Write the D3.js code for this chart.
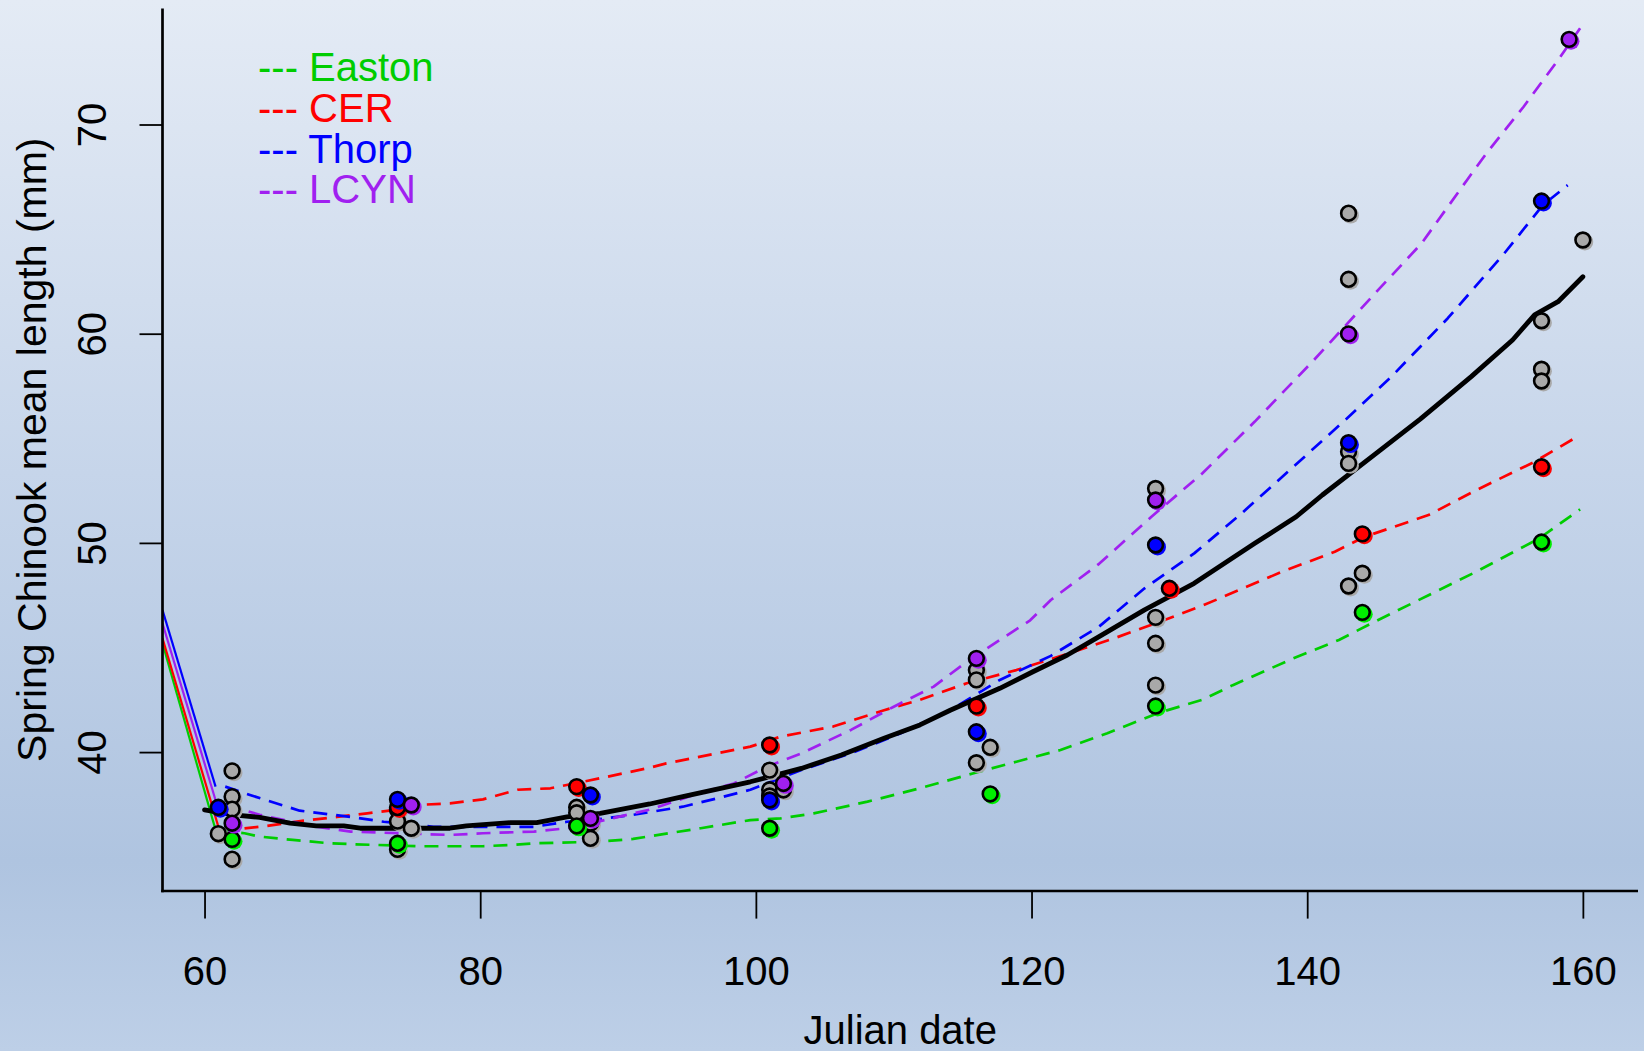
<!DOCTYPE html>
<html><head><meta charset="utf-8">
<script src="https://cdn.jsdelivr.net/npm/d3@7"></script>
<style>html,body{margin:0;padding:0;overflow:hidden;background:#fff}svg{display:block}text{font-family:"Liberation Sans",Arial,sans-serif}</style>
</head><body>
<script>
// ---------- DATA ----------
const xTicks = [60, 80, 100, 120, 140, 160];
const yTicks = [40, 50, 60, 70];
const xLabel = "Julian date";
const yLabel = "Spring Chinook mean length (mm)";
const siteNames = ["Easton", "CER", "Thorp", "LCYN"];

// all-site (gray) points [day, length]
const grayPoints = [
  [61,36.1],[62,39.1],[62,37.87],[62,37.27],[62,34.88],
  [74,37.24],[74,36.7],[74,35.35],[75,36.36],
  [87,37.36],[87,37.1],[88,36.6],[88,35.88],
  [101,39.14],[101,38.2],[101,37.9],[102,38.19],
  [116,43.92],[116,43.45],[116,39.49],[117,40.23],
  [129,52.6],[129,46.44],[129,45.2],[129,43.2],
  [143,65.76],[143,62.6],[143,54.36],[143,53.8],[143,47.94],[144,48.55],
  [157,60.62],[157,58.3],[157,57.74],[160,64.48]
];

const eastonPoints = [[62,35.83],[74,35.64],[87,36.47],[101,36.36],[117,38.0],[129,42.2],[144,46.68],[157,50.04]];
const cerPoints    = [[74,37.35],[87,38.35],[101,40.34],[116,42.2],[130,47.83],[144,50.43],[157,53.64]];
const thorpPoints  = [[61,37.36],[74,37.74],[88,37.95],[101,37.71],[116,40.97],[129,49.9],[143,54.79],[157,66.34]];
const lcynPoints   = [[62,36.6],[75,37.47],[88,36.83],[102,38.5],[116,44.48],[129,52.05],[143,59.99],[159,74.07]];

// short solid lead-in segments at the left edge
const eastonLead = [[56.95,45.2],[60.8,36.28]];
const cerLead    = [[56.95,45.44],[61.0,36.44]];
const thorpLead  = [[56.95,46.79],[60.8,38.35]];
const lcynLead   = [[56.95,46.16],[60.8,37.7]];

// smoothed site curves (dashed)
const eastonCurve = [[61,36.25],[62.9,36.12],[64,35.96],[66.4,35.8],[69.1,35.64],[70.6,35.6],[75.4,35.5],[80.2,35.5],[82.2,35.56],[83.9,35.64],[88.7,35.72],[91.1,35.85],[96,36.36],[99.6,36.75],[101.8,36.83],[104.2,37.07],[108.1,37.63],[111.9,38.27],[115.8,38.99],[118.9,39.54],[122.1,40.1],[125.5,40.9],[129.1,41.85],[132.4,42.5],[134.6,43.2],[139,44.48],[142.3,45.36],[144.8,46.2],[148.8,47.5],[152.2,48.6],[156.8,50.2],[159.8,51.6]];
const cerCurve = [[62.9,36.35],[64.5,36.47],[67.2,36.72],[69.6,36.9],[71.8,37.07],[73.7,37.23],[75.4,37.47],[77.8,37.55],[80.2,37.74],[82.7,38.2],[85.1,38.27],[88.7,38.75],[92.3,39.25],[93.5,39.46],[99.6,40.26],[101.8,40.74],[105.6,41.22],[109.3,42.0],[111.9,42.5],[115.3,43.29],[118.9,43.92],[122.6,44.7],[126,45.44],[129.6,46.3],[132.4,47.0],[138.1,48.6],[142,49.58],[144.2,50.3],[148.8,51.33],[152.2,52.5],[156.5,53.88],[159.6,55.08]];
const thorpCurve = [[61.5,38.35],[63.3,37.95],[66.9,37.2],[70.6,36.9],[73,36.67],[76.6,36.43],[80.2,36.43],[83.9,36.43],[86.3,36.67],[88.7,36.8],[91.1,37.0],[94.7,37.39],[97.2,37.79],[99.6,38.2],[103.3,39.14],[106.9,39.94],[110.5,40.9],[114.1,42.0],[117.7,43.45],[121.4,44.6],[124.9,46.0],[128.2,47.83],[131.8,49.5],[135.1,51.33],[139,53.64],[142.8,55.9],[146.1,57.94],[150.2,60.74],[154.3,63.84],[157.1,66.15],[158.9,67.1]];
const lcynCurve = [[61.6,37.47],[64,37.0],[66.9,36.6],[68.1,36.44],[70.6,36.2],[74.2,36.12],[77.8,36.04],[80.2,36.12],[83.9,36.2],[86.3,36.36],[88.7,36.7],[92.3,37.25],[95.5,37.95],[98.4,38.5],[100.8,39.3],[103.3,39.94],[106.9,41.06],[110,42.17],[112.9,43.13],[115.3,44.32],[117.7,45.36],[119.9,46.3],[121.4,47.27],[124.9,49.0],[128.7,51.25],[132.4,53.33],[136.2,55.8],[140.5,58.75],[144.7,61.77],[148.3,64.32],[151.6,67.35],[153,68.62],[155.7,70.85],[158.2,73.08],[159.8,74.6]];

// overall smoothed curve (solid black)
const allCurve = [[60,37.24],[62.1,37.0],[64,36.88],[66.2,36.6],[68.1,36.47],[70.1,36.47],[71.3,36.36],[74.2,36.36],[77.8,36.36],[79,36.47],[82.2,36.63],[84.1,36.63],[86.3,36.9],[88.7,37.07],[92.3,37.52],[94.7,37.87],[99.6,38.58],[103.3,39.22],[106.2,39.86],[109.3,40.66],[111.9,41.3],[114.1,42.0],[117.7,43.05],[120.1,43.84],[122.6,44.64],[124.9,45.52],[128.2,46.8],[131.8,48.07],[136.2,49.98],[139.2,51.25],[141.1,52.29],[145,54.28],[148.2,55.92],[151.9,57.95],[154.9,59.7],[156.5,60.9],[158.2,61.53],[160,62.72]];

// ---------- STYLE ----------
const W = 1644, H = 1051;
const lineColors  = ["#00cd00", "#ff0000", "#0000ff", "#a020f0"];
const pointColors = ["#00ee00", "#ff0000", "#0000ff", "#a020f0"];
const grayColor = "#a9a9a9";

const sites = [
  {name: siteNames[0], pts: eastonPoints, lead: eastonLead, curve: eastonCurve},
  {name: siteNames[1], pts: cerPoints,    lead: cerLead,    curve: cerCurve},
  {name: siteNames[2], pts: thorpPoints,  lead: thorpLead,  curve: thorpCurve},
  {name: siteNames[3], pts: lcynPoints,   lead: lcynLead,   curve: lcynCurve}
];

const svg = d3.select("body").append("svg").attr("width", W).attr("height", H);
const defs = svg.append("defs");
const grad = defs.append("linearGradient").attr("id","bg").attr("x1",0).attr("y1",0).attr("x2",0).attr("y2",1);
grad.append("stop").attr("offset","0%").attr("stop-color","#e4ebf5");
grad.append("stop").attr("offset","45%").attr("stop-color","#c6d5ea");
grad.append("stop").attr("offset","82%").attr("stop-color","#afc4e0");
grad.append("stop").attr("offset","100%").attr("stop-color","#bdcfe7");
svg.append("rect").attr("width", W).attr("height", H).attr("fill","url(#bg)");

const pLeft = 162.5, pRight = 1638, pTop = 8.4, pBottom = 891;
const x = d3.scaleLinear().domain([56.95, 164.0]).range([pLeft, pRight]);
const y = d3.scaleLinear().domain([33.36, 75.55]).range([pBottom, pTop]);

const clip = defs.append("clipPath").attr("id","plotclip");
clip.append("rect").attr("x", pLeft).attr("y", pTop).attr("width", pRight-pLeft).attr("height", pBottom-pTop);

const line = d3.line().x(d => x(d[0])).y(d => y(d[1]));
const plot = svg.append("g").attr("clip-path","url(#plotclip)");

// site lead-ins and curves
sites.forEach((s, i) => {
  plot.append("path").attr("d", line(s.lead)).attr("fill","none")
    .attr("stroke", lineColors[i]).attr("stroke-width", 2.2);
});
sites.forEach((s, i) => {
  plot.append("path").attr("d", line(s.curve)).attr("fill","none")
    .attr("stroke", lineColors[i]).attr("stroke-width", 2.7)
    .attr("stroke-dasharray","14,9").attr("stroke-linejoin","round");
});

// overall curve
plot.append("path").attr("d", line(allCurve)).attr("fill","none")
  .attr("stroke","#000").attr("stroke-width",4.8).attr("stroke-linejoin","round").attr("stroke-linecap","round");

// points
function drawPoints(data, color){
  const g = svg.append("g");
  g.selectAll("circle.sh").data(data).join("circle").attr("class","sh")
    .attr("cx", d => x(d[0]) + 2).attr("cy", d => y(d[1]) + 2).attr("r", 8.4).attr("fill", color);
  g.selectAll("circle.pt").data(data).join("circle").attr("class","pt")
    .attr("cx", d => x(d[0])).attr("cy", d => y(d[1])).attr("r", 7.4)
    .attr("fill", color).attr("stroke","#000").attr("stroke-width",2.6);
}
drawPoints(grayPoints, grayColor);
sites.forEach((s, i) => drawPoints(s.pts, pointColors[i]));

// axes
const xAxis = svg.append("g").attr("transform", `translate(0,${pBottom})`)
  .call(d3.axisBottom(x).tickValues(xTicks).tickSize(27.6).tickPadding(38).tickFormat(d3.format("d")));
xAxis.select(".domain").remove();
xAxis.selectAll(".tick line").attr("stroke","#000").attr("stroke-width",1.8);
xAxis.selectAll(".tick text").attr("font-size",40).attr("fill","#000")
  .attr("font-family",'"Liberation Sans",Arial,sans-serif');

const yAxis = svg.append("g").attr("transform", `translate(${pLeft},0)`)
  .call(d3.axisLeft(y).tickValues(yTicks).tickSize(23).tickFormat(d3.format("d")));
yAxis.select(".domain").remove();
yAxis.selectAll(".tick line").attr("stroke","#000").attr("stroke-width",1.8);
yAxis.selectAll(".tick text")
  .attr("x", null).attr("dy", null)
  .attr("transform", "translate(-57,0) rotate(-90)")
  .attr("text-anchor","middle").attr("font-size",40).attr("fill","#000")
  .attr("font-family",'"Liberation Sans",Arial,sans-serif');

// frame lines (L-shape)
svg.append("line").attr("x1", pLeft).attr("x2", pLeft).attr("y1", pTop).attr("y2", pBottom+1.3)
  .attr("stroke","#000").attr("stroke-width",2.7);
svg.append("line").attr("x1", pLeft-1.3).attr("x2", pRight).attr("y1", pBottom).attr("y2", pBottom)
  .attr("stroke","#000").attr("stroke-width",2.7);

// axis titles
svg.append("text").attr("x", (pLeft+pRight)/2).attr("y", 1044).attr("text-anchor","middle")
  .attr("font-size",40).attr("fill","#000").text(xLabel);
svg.append("text").attr("transform", `translate(46,${(pTop+pBottom)/2}) rotate(-90)`)
  .attr("text-anchor","middle").attr("font-size",41).attr("fill","#000").text(yLabel);

// legend
const leg = svg.append("g");
siteNames.forEach((n, i) => {
  leg.append("text").attr("x", 258).attr("y", 81 + i*40.8)
    .attr("font-size",40).attr("fill", lineColors[i]).text("--- " + n);
});
</script>
</body></html>
